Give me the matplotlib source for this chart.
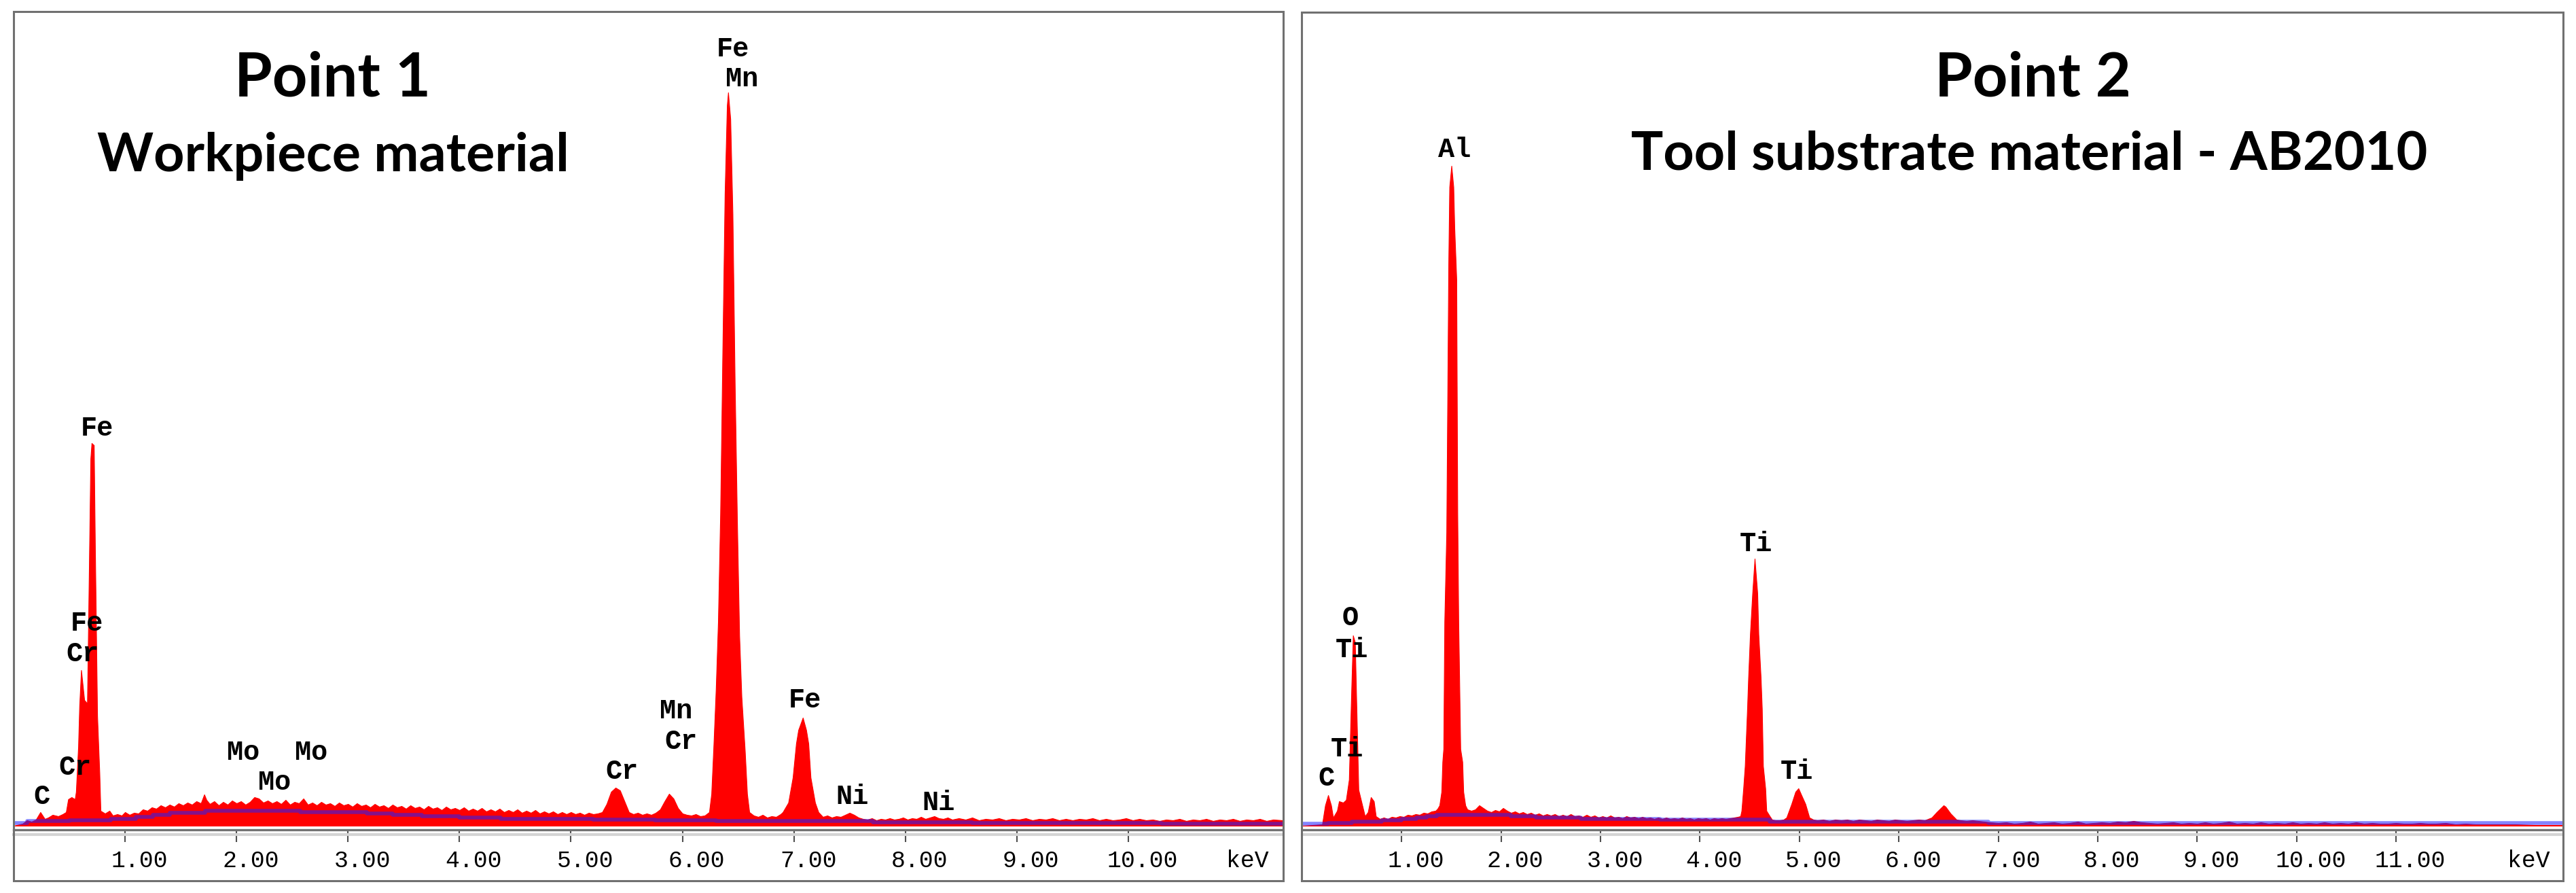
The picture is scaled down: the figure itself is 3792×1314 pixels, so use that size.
import numpy as np
import matplotlib.pyplot as plt
from matplotlib.patches import Rectangle
from matplotlib.transforms import ScaledTranslation

W, H = 3792, 1314

# ---------------- Point 1 : workpiece material ----------------
# (keV, counts)
p1_spectrum = [
    (0.00, 0), (0.08, 3), (0.12, 8), (0.16, 6), (0.20, 9), (0.24, 20), (0.28, 10), (0.31, 12),
    (0.35, 16), (0.40, 14), (0.44, 17), (0.47, 20), (0.49, 39), (0.52, 42), (0.55, 39), (0.56, 50),
    (0.58, 117), (0.59, 176), (0.606, 229), (0.634, 185), (0.66, 180), (0.677, 382), (0.69, 540),
    (0.70, 563), (0.72, 560), (0.73, 414), (0.75, 162), (0.77, 78), (0.78, 22), (0.82, 18), (0.86, 22),
    (0.89, 15), (0.93, 17), (0.97, 15), (1.00, 20), (1.04, 16), (1.08, 19), (1.12, 18), (1.16, 24),
    (1.20, 22), (1.24, 27), (1.28, 25), (1.32, 30), (1.36, 27), (1.40, 31), (1.44, 28), (1.48, 33),
    (1.52, 30), (1.56, 34), (1.60, 31), (1.64, 36), (1.68, 33), (1.71, 46), (1.73, 38), (1.76, 32),
    (1.80, 36), (1.84, 30), (1.88, 35), (1.92, 31), (1.96, 37), (2.00, 33), (2.04, 36), (2.08, 31),
    (2.12, 35), (2.16, 42), (2.20, 40), (2.24, 34), (2.28, 37), (2.32, 33), (2.36, 36), (2.40, 32),
    (2.44, 38), (2.48, 31), (2.52, 35), (2.56, 33), (2.60, 40), (2.64, 31), (2.68, 34), (2.72, 30),
    (2.76, 35), (2.80, 31), (2.84, 33), (2.88, 29), (2.92, 34), (2.96, 30), (3.00, 32), (3.04, 28),
    (3.08, 33), (3.12, 29), (3.16, 31), (3.20, 27), (3.24, 32), (3.28, 28), (3.32, 30), (3.36, 26),
    (3.40, 31), (3.44, 27), (3.48, 29), (3.52, 25), (3.56, 30), (3.60, 26), (3.64, 28), (3.68, 24),
    (3.72, 29), (3.76, 25), (3.80, 27), (3.84, 23), (3.88, 28), (3.92, 24), (3.96, 26), (4.00, 23),
    (4.04, 27), (4.08, 22), (4.12, 25), (4.16, 22), (4.20, 26), (4.24, 21), (4.28, 24), (4.32, 21),
    (4.36, 25), (4.40, 20), (4.44, 23), (4.48, 20), (4.52, 24), (4.56, 19), (4.60, 22), (4.64, 19),
    (4.68, 23), (4.72, 18), (4.76, 21), (4.80, 18), (4.84, 21), (4.88, 17), (4.92, 20), (4.96, 17),
    (5.00, 20), (5.04, 17), (5.08, 19), (5.12, 16), (5.16, 19), (5.20, 17), (5.24, 18), (5.28, 20),
    (5.32, 32), (5.36, 50), (5.40, 56), (5.44, 52), (5.48, 36), (5.52, 20), (5.56, 17), (5.60, 19),
    (5.64, 16), (5.68, 18), (5.72, 16), (5.76, 19), (5.80, 24), (5.84, 36), (5.88, 47), (5.92, 40),
    (5.96, 26), (6.00, 18), (6.04, 16), (6.08, 15), (6.12, 17), (6.16, 14), (6.20, 15), (6.24, 20),
    (6.26, 47), (6.28, 120), (6.30, 200), (6.32, 300), (6.34, 460), (6.36, 700), (6.38, 930),
    (6.40, 1060), (6.41, 1079), (6.43, 1040), (6.45, 900), (6.47, 650), (6.49, 450), (6.51, 280),
    (6.53, 190), (6.56, 111), (6.58, 47), (6.60, 20), (6.64, 15), (6.68, 13), (6.72, 16), (6.76, 12),
    (6.80, 14), (6.84, 13), (6.88, 17), (6.90, 20), (6.95, 34), (6.99, 71), (7.02, 121), (7.04, 141),
    (7.08, 159), (7.11, 141), (7.13, 121), (7.15, 71), (7.19, 34), (7.22, 20), (7.26, 13), (7.30, 15),
    (7.34, 12), (7.38, 14), (7.42, 13), (7.46, 16), (7.50, 19), (7.54, 16), (7.58, 12), (7.62, 10),
    (7.66, 9), (7.70, 11), (7.74, 8), (7.78, 10), (7.82, 9), (7.86, 11), (7.90, 9), (7.94, 10),
    (7.98, 12), (8.02, 9), (8.06, 11), (8.10, 10), (8.14, 13), (8.18, 10), (8.22, 12), (8.26, 14),
    (8.30, 11), (8.34, 10), (8.38, 12), (8.42, 9), (8.48, 11), (8.54, 9), (8.60, 12), (8.66, 8),
    (8.72, 10), (8.78, 9), (8.84, 11), (8.90, 8), (8.96, 10), (9.02, 9), (9.08, 11), (9.14, 8),
    (9.20, 10), (9.26, 9), (9.32, 11), (9.38, 8), (9.44, 10), (9.50, 8), (9.56, 10), (9.62, 9),
    (9.68, 11), (9.74, 8), (9.80, 10), (9.86, 8), (9.92, 9), (9.98, 11), (10.04, 8), (10.10, 10),
    (10.16, 8), (10.22, 9), (10.28, 7), (10.34, 9), (10.40, 8), (10.46, 10), (10.52, 7), (10.58, 9),
    (10.64, 8), (10.70, 10), (10.76, 7), (10.82, 9), (10.88, 8), (10.94, 10), (11.00, 7), (11.06, 9),
    (11.12, 8), (11.18, 10), (11.24, 7), (11.30, 9), (11.384, 8),
]
# fitted background (blue step line)
p1_background = [
    (0.00, 4), (0.12, 7), (0.50, 8), (0.87, 10), (1.10, 13), (1.25, 16), (1.40, 19), (1.72, 22),
    (2.57, 20), (3.17, 18), (3.40, 16), (3.66, 14), (4.00, 12), (4.37, 10), (5.20, 9), (5.75, 8),
    (6.30, 7), (7.71, 5), (8.60, 4), (10.30, 3), (11.384, 3),
]
p1_labels = ["C", "Cr", "Cr", "Fe", "Fe", "Mo", "Mo", "Mo", "Cr", "Mn", "Cr", "Fe", "Mn", "Fe", "Ni", "Ni"]
p1_label_kev = [0.25, 0.55, 0.62, 0.66, 0.75, 2.06, 2.34, 2.67, 5.455, 5.945, 5.985, 6.454, 6.533, 7.097, 7.523, 8.30]
p1_label_counts = [43, 86, 253, 298, 585, 108, 64, 108, 80, 169, 124, 1143, 1099, 185, 43, 34]
p1_ticks = [1, 2, 3, 4, 5, 6, 7, 8, 9, 10]

# ---------------- Point 2 : tool substrate AB2010 ----------------
p2_spectrum = [
    (0.00, 0), (0.20, 2), (0.23, 30), (0.26, 45), (0.29, 30), (0.31, 12), (0.35, 22), (0.37, 36),
    (0.41, 34), (0.44, 38), (0.47, 68), (0.49, 179), (0.51, 280), (0.53, 270), (0.54, 206),
    (0.565, 53), (0.60, 32), (0.63, 14), (0.66, 20), (0.69, 42), (0.72, 36), (0.74, 14), (0.78, 10),
    (0.82, 12), (0.86, 10), (0.90, 13), (0.94, 12), (0.98, 14), (1.02, 13), (1.06, 16), (1.10, 15),
    (1.14, 17), (1.18, 16), (1.22, 19), (1.26, 18), (1.30, 21), (1.34, 22), (1.36, 25), (1.38, 30),
    (1.40, 50), (1.41, 94), (1.42, 113), (1.43, 300), (1.45, 432), (1.47, 825), (1.48, 940),
    (1.50, 971), (1.52, 940), (1.53, 880), (1.55, 804), (1.56, 460), (1.57, 301), (1.59, 113),
    (1.61, 94), (1.62, 50), (1.64, 30), (1.66, 24), (1.70, 22), (1.74, 24), (1.78, 30), (1.82, 26),
    (1.86, 22), (1.90, 20), (1.94, 23), (1.98, 21), (2.02, 26), (2.06, 22), (2.10, 19), (2.14, 21),
    (2.18, 18), (2.22, 20), (2.26, 17), (2.30, 19), (2.34, 16), (2.38, 18), (2.42, 15), (2.46, 17),
    (2.50, 15), (2.54, 17), (2.58, 14), (2.62, 16), (2.66, 14), (2.70, 17), (2.74, 14), (2.78, 15),
    (2.82, 13), (2.86, 16), (2.90, 13), (2.94, 15), (2.98, 12), (3.02, 14), (3.06, 12), (3.10, 15),
    (3.14, 12), (3.18, 13), (3.22, 11), (3.26, 14), (3.30, 12), (3.34, 13), (3.38, 11), (3.42, 13),
    (3.46, 11), (3.50, 12), (3.54, 10), (3.58, 12), (3.62, 10), (3.66, 12), (3.70, 10), (3.74, 11),
    (3.78, 10), (3.82, 12), (3.86, 10), (3.90, 11), (3.94, 9), (3.98, 11), (4.02, 10), (4.06, 11),
    (4.10, 9), (4.14, 11), (4.18, 10), (4.22, 11), (4.26, 10), (4.30, 11), (4.34, 12), (4.38, 13),
    (4.406, 14), (4.418, 22), (4.436, 55), (4.452, 88), (4.475, 172), (4.486, 218), (4.504, 282),
    (4.527, 342), (4.550, 393), (4.577, 342), (4.588, 282), (4.611, 218), (4.623, 172), (4.634, 88),
    (4.657, 55), (4.668, 22), (4.702, 14), (4.725, 9), (4.76, 8), (4.80, 8), (4.84, 9), (4.87, 12),
    (4.92, 32), (4.96, 50), (4.99, 55), (5.02, 45), (5.06, 32), (5.10, 12), (5.14, 9), (5.18, 8),
    (5.24, 9), (5.30, 7), (5.36, 9), (5.42, 8), (5.48, 9), (5.54, 7), (5.60, 9), (5.66, 8),
    (5.72, 7), (5.78, 9), (5.84, 8), (5.90, 7), (5.96, 9), (6.02, 8), (6.08, 7), (6.14, 8),
    (6.20, 9), (6.26, 8), (6.33, 12), (6.38, 20), (6.45, 30), (6.47, 28), (6.52, 18), (6.58, 9),
    (6.62, 8), (6.68, 7), (6.74, 8), (6.80, 7), (6.86, 6), (6.92, 5), (7.00, 4), (7.08, 5),
    (7.16, 3), (7.24, 4), (7.32, 6), (7.40, 3), (7.48, 4), (7.56, 5), (7.64, 3), (7.72, 4),
    (7.80, 6), (7.88, 3), (7.96, 4), (8.04, 5), (8.12, 4), (8.20, 6), (8.28, 5), (8.36, 7),
    (8.44, 5), (8.52, 4), (8.60, 3), (8.68, 4), (8.76, 5), (8.84, 3), (8.92, 4), (9.00, 3),
    (9.08, 5), (9.16, 3), (9.24, 4), (9.32, 6), (9.40, 3), (9.48, 4), (9.56, 3), (9.64, 5),
    (9.72, 3), (9.80, 4), (9.88, 3), (9.96, 5), (10.04, 3), (10.12, 4), (10.20, 3), (10.28, 5),
    (10.36, 3), (10.44, 4), (10.52, 3), (10.60, 5), (10.68, 3), (10.76, 4), (10.84, 3), (10.92, 3),
    (11.00, 4), (11.08, 3), (11.16, 3), (11.24, 4), (11.32, 3), (11.40, 3), (11.50, 4), (11.60, 2),
    (11.70, 3), (11.80, 2), (11.90, 2), (12.00, 2), (12.20, 2), (12.40, 1), (12.674, 1),
]
p2_background = [
    (0.00, 3), (0.26, 4), (0.50, 6), (0.80, 8), (1.00, 10), (1.15, 12), (1.25, 14), (1.35, 16),
    (2.10, 14), (2.35, 12), (2.80, 10), (3.60, 9), (4.70, 6), (6.90, 4), (12.674, 4),
]
p2_labels = ["C", "Ti", "Ti", "O", "Al", "Ti", "Ti"]
p2_label_kev = [0.242, 0.447, 0.501, 0.481, 1.529, 4.566, 4.976]
p2_label_counts = [70, 113, 259, 306, 995, 415, 80]
p2_ticks = [1, 2, 3, 4, 5, 6, 7, 8, 9, 10, 11]

fig = plt.figure(figsize=(W / 100, H / 100), dpi=100)


def px_axes(x0, y0, x1, y1):
    return fig.add_axes([x0 / W, 1 - y1 / H, (x1 - x0) / W, (y1 - y0) / H])


def draw_panel(ax, spectrum, background, labels, lab_kev, lab_counts, ticks, xmax, kev_pos):
    kev, counts = np.array(spectrum).T
    ax.fill_between(kev, counts, color='#ff0000', edgecolor='#ff0000', lw=0.8)
    bk, bc = np.array(background).T
    ax.step(bk, bc, where='post', color='#2020ff', alpha=0.55, lw=4.0)
    for t, x, y in zip(labels, lab_kev, lab_counts):
        ax.text(x, y, t, ha='center', va='center', family='Liberation Mono',
                fontsize=29, fontweight='bold')
    ax.axhline(-13, color='#d4d4d4', lw=3, clip_on=False)
    ax.set_xlim(0, xmax)
    ax.set_ylim(-6, 1198)
    ax.set_yticks([])
    ax.set_xticks(list(ticks) + [kev_pos])
    ax.set_xticklabels([f'{t:.2f}' for t in ticks] + ['keV'])
    ax.xaxis.get_major_ticks()[-1].tick1line.set_visible(False)
    for s in ['top', 'left', 'right']:
        ax.spines[s].set_visible(False)
    ax.spines['bottom'].set_color('#727272')
    ax.spines['bottom'].set_linewidth(2.4)
    ax.tick_params(axis='x', length=13, width=1.5, color='#505050', pad=8,
                   labelsize=25, labelcolor='black')
    shift = ScaledTranslation(0.21, 0, fig.dpi_scale_trans)
    for lab in ax.get_xticklabels():
        lab.set_fontfamily('Liberation Mono')
        lab.set_transform(lab.get_transform() + shift)


def frame(x0, y0, x1, y1):
    fig.add_artist(Rectangle((x0 / W, 1 - y1 / H), (x1 - x0) / W, (y1 - y0) / H,
                             transform=fig.transFigure, fill=False,
                             edgecolor='#707070', lw=2.2))


frame(20, 17, 1889, 1296)
frame(1916, 18, 3773, 1296)

ax1 = px_axes(20, 17, 1888, 1221)
draw_panel(ax1, p1_spectrum, p1_background, p1_labels, p1_label_kev, p1_label_counts,
           p1_ticks, 11.384, 10.94)
ax2 = px_axes(1917, 17, 3772, 1221)
draw_panel(ax2, p2_spectrum, p2_background, p2_labels, p2_label_kev, p2_label_counts,
           p2_ticks, 12.674, 12.19)

title_font = dict(family='Lato', fontweight='bold', ha='center', va='baseline', color='black')
fig.text(490 / W, 1 - 142 / H, 'Point 1', fontsize=65, **title_font)
fig.text(490 / W, 1 - 252 / H, 'Workpiece material', fontsize=57, **title_font)
fig.text(2992 / W, 1 - 142 / H, 'Point 2', fontsize=65, **title_font)
fig.text(2987 / W, 1 - 249 / H, 'Tool substrate material - AB2010', fontsize=57, **title_font)

fig.savefig('out.png', dpi=100)
